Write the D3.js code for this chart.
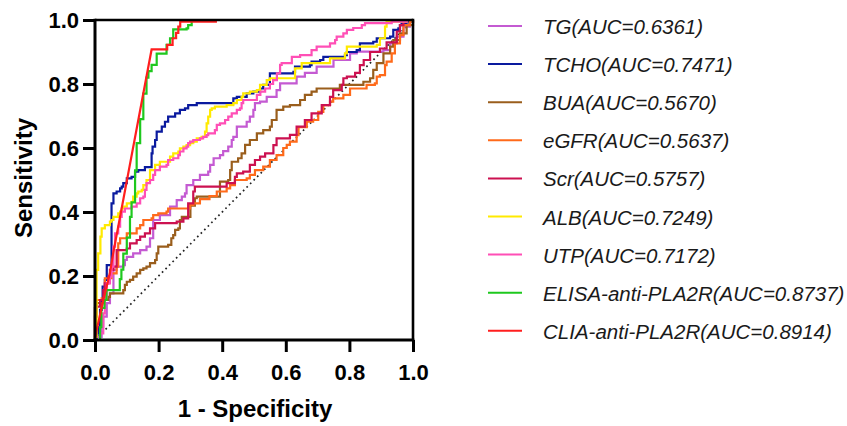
<!DOCTYPE html>
<html><head><meta charset="utf-8">
<script src="https://cdn.jsdelivr.net/npm/d3@7"></script>
<style>
html,body{margin:0;padding:0;background:#fff;}
svg{display:block;font-family:Arial,"Liberation Sans",sans-serif;}
</style></head>
<body>
<svg id="chart" width="847" height="426"></svg>
<script>
const xTicks = [0, 0.2, 0.4, 0.6, 0.8, 1.0];
const yTicks = [0, 0.2, 0.4, 0.6, 0.8, 1.0];
const xTitle = "1 - Specificity";
const yTitle = "Sensitivity";
const seriesNames = ["TG","TCHO","BUA","eGFR","Scr","ALB","UTP","ELISA-anti-PLA2R","CLIA-anti-PLA2R"];
const aucValues = ["0.6361","0.7471","0.5670","0.5637","0.5757","0.7249","0.7172","0.8737","0.8914"];
const seriesColors = ["#c45ad2","#0a1a9e","#9a5e1c","#ff6a1a","#cc1150","#ffea00","#ff4fb6","#1ec81e","#ff1e1e"];

const TG = [[0,0],[0.005,0.01],[0.021,0.042],[0.026,0.073],[0.037,0.115],[0.047,0.146],[0.058,0.219],[0.068,0.229],[0.089,0.234],[0.094,0.25],[0.1,0.26],[0.12,0.271],[0.142,0.281],[0.162,0.292],[0.173,0.318],[0.183,0.375],[0.204,0.39],[0.236,0.417],[0.257,0.437],[0.273,0.448],[0.283,0.458],[0.288,0.484],[0.309,0.5],[0.33,0.516],[0.356,0.526],[0.362,0.547],[0.373,0.568],[0.393,0.578],[0.403,0.59],[0.419,0.604],[0.43,0.625],[0.435,0.635],[0.446,0.667],[0.477,0.682],[0.487,0.698],[0.498,0.719],[0.503,0.74],[0.519,0.745],[0.54,0.76],[0.571,0.781],[0.582,0.802],[0.634,0.823],[0.66,0.835],[0.697,0.854],[0.75,0.875],[0.802,0.896],[0.823,0.901],[0.907,0.906],[0.928,0.927],[0.949,0.948],[0.97,0.979],[0.99,1],[1,1]];
const TCHO = [[0,0],[0.005,0.02],[0.01,0.04],[0.016,0.094],[0.021,0.125],[0.024,0.167],[0.031,0.1875],[0.037,0.234],[0.052,0.24],[0.052,0.427],[0.058,0.458],[0.068,0.464],[0.079,0.474],[0.084,0.479],[0.089,0.49],[0.1,0.505],[0.115,0.51],[0.126,0.526],[0.136,0.531],[0.157,0.54],[0.178,0.583],[0.181,0.604],[0.189,0.625],[0.194,0.651],[0.21,0.667],[0.22,0.682],[0.23,0.698],[0.252,0.708],[0.267,0.719],[0.283,0.724],[0.293,0.734],[0.32,0.74],[0.435,0.755],[0.446,0.76],[0.477,0.771],[0.498,0.776],[0.519,0.786],[0.529,0.797],[0.55,0.833],[0.624,0.838],[0.629,0.854],[0.676,0.859],[0.681,0.87],[0.708,0.875],[0.718,0.885],[0.786,0.89],[0.792,0.9],[0.823,0.906],[0.833,0.927],[0.875,0.932],[0.886,0.943],[0.928,0.948],[0.938,0.969],[0.954,0.974],[0.959,0.984],[0.964,0.99],[0.98,0.995],[1,1]];
const BUA = [[0,0],[0,0.1],[0.005,0.115],[0.026,0.125],[0.042,0.135],[0.047,0.146],[0.084,0.146],[0.089,0.156],[0.094,0.172],[0.1,0.182],[0.11,0.188],[0.12,0.198],[0.131,0.208],[0.142,0.219],[0.152,0.224],[0.162,0.229],[0.173,0.24],[0.189,0.25],[0.194,0.271],[0.199,0.292],[0.23,0.297],[0.24,0.318],[0.246,0.328],[0.252,0.344],[0.262,0.349],[0.267,0.375],[0.273,0.385],[0.3,0.42],[0.314,0.443],[0.32,0.448],[0.388,0.448],[0.393,0.495],[0.419,0.5],[0.425,0.531],[0.43,0.557],[0.45,0.568],[0.461,0.583],[0.472,0.61],[0.487,0.625],[0.509,0.646],[0.529,0.656],[0.55,0.667],[0.556,0.6875],[0.571,0.719],[0.592,0.729],[0.613,0.734],[0.645,0.75],[0.66,0.766],[0.681,0.776],[0.697,0.786],[0.76,0.786],[0.77,0.797],[0.844,0.807],[0.865,0.818],[0.875,0.844],[0.886,0.865],[0.907,0.896],[0.928,0.917],[0.938,0.937],[0.959,0.958],[0.98,0.984],[1,1]];
const eGFR = [[0,0],[0,0.1],[0.005,0.125],[0.021,0.13],[0.031,0.193],[0.052,0.208],[0.068,0.229],[0.073,0.302],[0.079,0.318],[0.1,0.333],[0.131,0.349],[0.142,0.359],[0.152,0.375],[0.178,0.38],[0.183,0.39],[0.199,0.396],[0.225,0.401],[0.23,0.411],[0.293,0.411],[0.299,0.422],[0.309,0.427],[0.33,0.44],[0.36,0.45],[0.383,0.464],[0.414,0.474],[0.425,0.484],[0.44,0.5],[0.477,0.505],[0.487,0.516],[0.503,0.531],[0.529,0.542],[0.55,0.5625],[0.571,0.578],[0.592,0.6],[0.603,0.61],[0.613,0.62],[0.634,0.64],[0.64,0.665],[0.666,0.682],[0.686,0.6875],[0.702,0.713],[0.718,0.734],[0.739,0.745],[0.749,0.755],[0.781,0.766],[0.802,0.786],[0.854,0.797],[0.88,0.802],[0.886,0.823],[0.896,0.828],[0.912,0.859],[0.917,0.87],[0.933,0.896],[0.943,0.927],[0.959,0.953],[0.97,0.984],[0.99,0.995],[1,1]];
const Scr = [[0,0],[0,0.073],[0.005,0.104],[0.016,0.125],[0.026,0.156],[0.031,0.177],[0.042,0.198],[0.047,0.219],[0.058,0.229],[0.068,0.281],[0.1,0.286],[0.11,0.302],[0.131,0.3125],[0.142,0.323],[0.157,0.333],[0.173,0.349],[0.189,0.365],[0.257,0.37],[0.278,0.38],[0.293,0.427],[0.309,0.464],[0.314,0.479],[0.383,0.479],[0.414,0.49],[0.44,0.51],[0.446,0.521],[0.466,0.526],[0.487,0.547],[0.503,0.5625],[0.519,0.573],[0.535,0.583],[0.561,0.609],[0.571,0.63],[0.613,0.641],[0.634,0.667],[0.66,0.6875],[0.681,0.708],[0.713,0.734],[0.739,0.76],[0.749,0.781],[0.776,0.797],[0.781,0.818],[0.792,0.823],[0.818,0.835],[0.833,0.859],[0.845,0.875],[0.865,0.9],[0.896,0.911],[0.917,0.93],[0.949,0.964],[0.959,0.984],[0.97,1],[1,1]];
const ALB = [[0,0],[0,0.01],[0.005,0.219],[0.01,0.271],[0.017,0.323],[0.021,0.349],[0.031,0.359],[0.047,0.37],[0.052,0.375],[0.058,0.385],[0.073,0.396],[0.079,0.401],[0.084,0.411],[0.089,0.417],[0.1,0.427],[0.115,0.432],[0.12,0.448],[0.131,0.458],[0.136,0.464],[0.147,0.469],[0.152,0.484],[0.162,0.5],[0.173,0.531],[0.189,0.547],[0.204,0.557],[0.236,0.573],[0.246,0.583],[0.262,0.589],[0.267,0.599],[0.278,0.604],[0.288,0.609],[0.299,0.615],[0.309,0.62],[0.32,0.63],[0.335,0.635],[0.346,0.651],[0.351,0.677],[0.356,0.698],[0.362,0.719],[0.367,0.724],[0.377,0.729],[0.414,0.734],[0.435,0.74],[0.446,0.75],[0.461,0.76],[0.466,0.771],[0.487,0.776],[0.509,0.781],[0.519,0.797],[0.54,0.8125],[0.55,0.818],[0.613,0.818],[0.629,0.849],[0.65,0.865],[0.729,0.865],[0.739,0.88],[0.786,0.896],[0.792,0.917],[0.886,0.922],[0.896,0.943],[0.912,0.979],[0.917,0.995],[0.98,1],[1,1]];
const UTP = [[0,0],[0.016,0.021],[0.026,0.083],[0.031,0.135],[0.037,0.177],[0.047,0.198],[0.052,0.229],[0.058,0.292],[0.063,0.333],[0.073,0.354],[0.079,0.385],[0.084,0.401],[0.094,0.411],[0.115,0.417],[0.131,0.427],[0.142,0.443],[0.152,0.448],[0.157,0.469],[0.162,0.49],[0.173,0.5],[0.183,0.516],[0.189,0.531],[0.204,0.542],[0.225,0.547],[0.23,0.5625],[0.246,0.568],[0.262,0.578],[0.267,0.589],[0.278,0.599],[0.288,0.604],[0.293,0.615],[0.299,0.62],[0.309,0.625],[0.33,0.63],[0.34,0.635],[0.351,0.64],[0.356,0.646],[0.377,0.656],[0.383,0.672],[0.393,0.677],[0.409,0.6875],[0.419,0.698],[0.43,0.708],[0.446,0.719],[0.456,0.724],[0.461,0.74],[0.466,0.75],[0.509,0.766],[0.52,0.776],[0.535,0.786],[0.55,0.8],[0.56,0.812],[0.572,0.833],[0.582,0.86],[0.587,0.865],[0.619,0.885],[0.645,0.89],[0.681,0.906],[0.697,0.917],[0.739,0.927],[0.755,0.9375],[0.76,0.948],[0.781,0.958],[0.792,0.969],[0.812,0.975],[0.839,0.984],[0.849,0.99],[0.928,0.99],[0.933,0.995],[0.98,1],[1,1]];
const ELISA = [[0,0],[0.01,0],[0.016,0.04],[0.02,0.1],[0.03,0.125],[0.036,0.156],[0.073,0.156],[0.078,0.19],[0.083,0.22],[0.089,0.27],[0.1,0.32],[0.11,0.385],[0.115,0.43],[0.126,0.53],[0.131,0.615],[0.142,0.69],[0.152,0.77],[0.162,0.82],[0.168,0.84],[0.178,0.86],[0.194,0.865],[0.194,0.895],[0.225,0.895],[0.225,0.922],[0.236,0.922],[0.236,0.943],[0.246,0.953],[0.246,0.971],[0.265,0.971],[0.288,0.974],[0.293,0.984],[0.304,0.984],[0.304,1],[1,1]];
const CLIA = [[0,0],[0.005,0.03],[0.016,0.08],[0.025,0.12],[0.035,0.16],[0.047,0.21],[0.057,0.27],[0.178,0.908],[0.227,0.908],[0.227,0.922],[0.244,0.922],[0.244,0.943],[0.255,0.943],[0.255,0.96],[0.262,0.96],[0.262,0.979],[0.268,0.979],[0.268,0.995],[0.38,0.995],[0.38,1],[1,1]];
const seriesData = [TG, TCHO, BUA, eGFR, Scr, ALB, UTP, ELISA, CLIA];
const seriesStep = [true,true,true,true,true,true,true,true,false];

const svg = d3.select("#chart");
const x = d3.scaleLinear().domain([0,1]).range([95,413]);
const y = d3.scaleLinear().domain([0,1]).range([340,20]);

// reference diagonal
svg.append("line")
  .attr("x1", x(0)).attr("y1", y(0)).attr("x2", x(1)).attr("y2", y(1))
  .attr("stroke","#222").attr("stroke-width",1.7)
  .attr("stroke-dasharray","1.7,3.3");

// curves
seriesData.forEach((d,i)=>{
  const line = d3.line().x(p=>x(p[0])).y(p=>y(p[1]))
    .curve(seriesStep[i] ? d3.curveStepAfter : d3.curveLinear);
  svg.append("path").datum(d).attr("d", line)
    .attr("fill","none").attr("stroke", seriesColors[i])
    .attr("stroke-width",2.2).attr("stroke-linejoin","miter");
});

// frame (top & right)
svg.append("line").attr("x1",x(0)).attr("x2",x(1)).attr("y1",y(1)).attr("y2",y(1))
  .attr("stroke","#000").attr("stroke-width",2.6);
svg.append("line").attr("x1",x(1)).attr("x2",x(1)).attr("y1",y(1)-1.3).attr("y2",y(0))
  .attr("stroke","#000").attr("stroke-width",2.6);

// axes
const fmt = d3.format(".1f");
const gx = svg.append("g").attr("transform",`translate(0,${y(0)})`)
  .call(d3.axisBottom(x).tickValues(xTicks).tickFormat(fmt).tickSize(12).tickPadding(12).tickSizeOuter(0));
const gy = svg.append("g").attr("transform",`translate(${x(0)},0)`)
  .call(d3.axisLeft(y).tickValues(yTicks).tickFormat(fmt).tickSize(12).tickPadding(4).tickSizeOuter(0));
[gx, gy].forEach(g=>{
  g.select(".domain").attr("stroke","#000").attr("stroke-width",3);
  g.selectAll(".tick line").attr("stroke","#000").attr("stroke-width",3);
  g.selectAll(".tick text").attr("fill","#000")
    .style("font-size","22px").style("font-weight","bold")
    .style("font-family","Arial,'Liberation Sans',sans-serif");
});
gx.select(".domain").attr("d", `M${x(0)-1.5},0H${x(1)+1.3}`);
gy.select(".domain").attr("d", `M0,${y(1)-1.3}V${y(0)+1.5}`);

// axis titles
svg.append("text").attr("x", 255).attr("y", 417).attr("text-anchor","middle")
  .style("font-size","24px").style("font-weight","bold").attr("fill","#000").text(xTitle);
svg.append("text").attr("transform","translate(32,178) rotate(-90)").attr("text-anchor","middle")
  .style("font-size","24px").style("font-weight","bold").attr("fill","#000").text(yTitle);

// legend
const leg = svg.append("g");
seriesNames.forEach((n,i)=>{
  const cy = 26 + i*38.1;
  leg.append("line").attr("x1",488).attr("x2",522).attr("y1",cy).attr("y2",cy)
    .attr("stroke",seriesColors[i]).attr("stroke-width",2);
  leg.append("text").attr("x",543).attr("y",cy+8)
    .style("font-size","20.5px").style("font-style","italic").attr("fill","#1a1a1a")
    .text(`${n}(AUC=${aucValues[i]})`);
});
</script>
</body></html>
